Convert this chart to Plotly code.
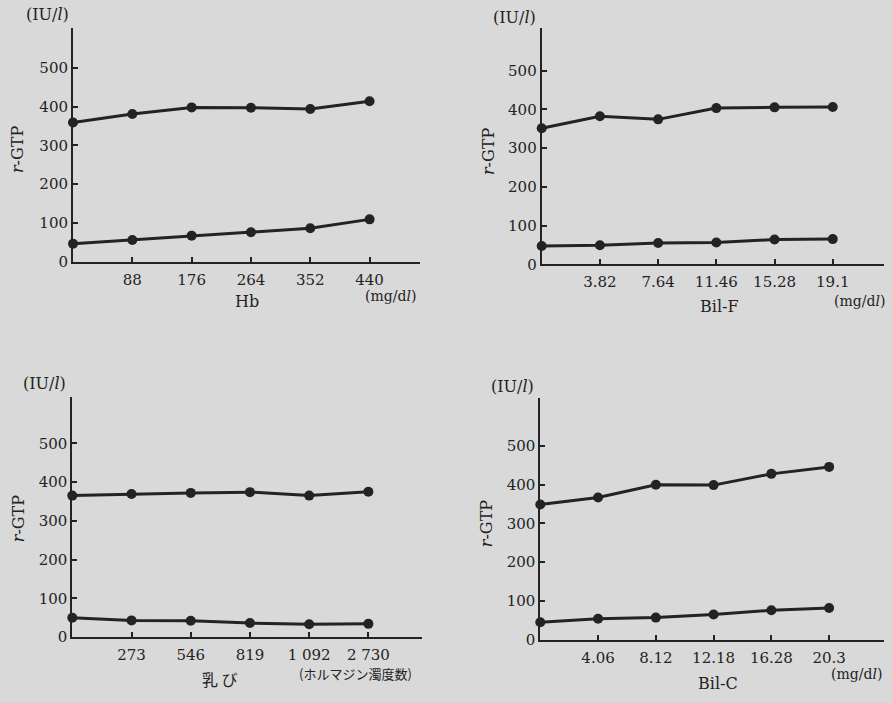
import plotly.graph_objects as go

# ---- data ----
hb_labels = ["", "88", "176", "264", "352", "440"]
hb_upper = [359, 381, 398, 397, 394, 414]
hb_lower = [46, 56, 67, 76, 86, 109]

bilf_labels = ["", "3.82", "7.64", "11.46", "15.28", "19.1"]
bilf_upper = [351, 382, 374, 403, 405, 406]
bilf_lower = [47, 49, 55, 56, 64, 65]

chyle_labels = ["", "273", "546", "819", "1 092", "2 730"]
chyle_upper = [365, 369, 372, 374, 365, 375]
chyle_lower = [50, 43, 42, 36, 33, 34]

bilc_labels = ["", "4.06", "8.12", "12.18", "16.28", "20.3"]
bilc_upper = [349, 367, 400, 399, 428, 446]
bilc_lower = [45, 54, 57, 65, 76, 82]

y_ticks = [0, 100, 200, 300, 400, 500]

W, H = 892, 703
BG = "#d9d9d9"
INK = "#232323"
SERIF = "DejaVu Serif, Liberation Serif, serif"
CJK = "Noto Sans CJK JP, sans-serif"

# panel geometry in pixels: (left, right, bottom, top) and text placements
panels = [
    dict(px=(73, 420, 265, 28), labels=hb_labels, up=hb_upper, lo=hb_lower,
         xtitle="Hb", xt=(247, 305), unit="(mg/d<i>l</i>)", ut=(390, 300),
         iu=(47, 15), rg=(17, 151), xend=5.85),
    dict(px=(541.7, 884, 267.7, 28), labels=bilf_labels, up=bilf_upper, lo=bilf_lower,
         xtitle="Bil-F", xt=(719, 310), unit="(mg/d<i>l</i>)", ut=(859, 305),
         iu=(514, 18), rg=(488, 153), xend=5.88),
    dict(px=(72.3, 421.7, 645.3, 401.7), labels=chyle_labels, up=chyle_upper, lo=chyle_lower,
         xtitle="乳 び", xt=(220, 688), unit="(ホルマジン濁度数)", ut=(355, 682),
         iu=(44, 388), rg=(18, 525), xend=5.9),
    dict(px=(540.3, 884, 648, 403), labels=bilc_labels, up=bilc_upper, lo=bilc_lower,
         xtitle="Bil-C", xt=(718, 692), unit="(mg/d<i>l</i>)", ut=(856, 683),
         iu=(512, 392), rg=(486, 530), xend=5.95),
]

fig = go.Figure()
annotations = []
layout = {}


def ann(text, xy, font, angle=0):
    return dict(text=text, x=xy[0] / W, y=1 - xy[1] / H, xref="paper", yref="paper",
                showarrow=False, font=font, textangle=angle,
                xanchor="center", yanchor="middle")


for i, p in enumerate(panels, start=1):
    l, r, b, t = p["px"]
    xa = "xaxis" if i == 1 else f"xaxis{i}"
    ya = "yaxis" if i == 1 else f"yaxis{i}"
    xref = "x" if i == 1 else f"x{i}"
    yref = "y" if i == 1 else f"y{i}"
    xs = list(range(len(p["labels"])))
    for series in (p["up"], p["lo"]):
        fig.add_trace(go.Scatter(
            x=xs, y=series, xaxis=xref, yaxis=yref, mode="lines+markers",
            line=dict(color=INK, width=3),
            marker=dict(color=INK, size=10),
            showlegend=False, hoverinfo="skip", cliponaxis=False,
        ))
    layout[xa] = dict(
        domain=[l / W, r / W], anchor=yref, range=[0, p["xend"]],
        showgrid=False, zeroline=False, showline=True, linecolor=INK, linewidth=2,
        ticks="inside", ticklen=5, tickwidth=1.5, tickcolor=INK,
        tickvals=xs[1:], ticktext=p["labels"][1:], ticklabelstandoff=3,
        tickfont=dict(family=SERIF, size=15, color=INK), fixedrange=True,
    )
    yr = (b - t) / 0.3925
    layout[ya] = dict(
        domain=[1 - b / H, 1 - t / H], anchor=xref, range=[0, yr],
        showgrid=False, zeroline=False, showline=True, linecolor=INK, linewidth=2,
        ticks="inside", ticklen=5, tickwidth=1.5, tickcolor=INK,
        tickvals=y_ticks, ticktext=[str(v) for v in y_ticks],
        tickfont=dict(family=SERIF, size=15, color=INK), fixedrange=True,
    )
    annotations.append(ann("(IU/<i>l</i>)", p["iu"], dict(family=SERIF, size=16, color=INK)))
    annotations.append(ann("<i>r</i>-GTP", p["rg"], dict(family=SERIF, size=16, color=INK), -90))
    xt_font = dict(family=CJK if i == 3 else SERIF, size=16, color=INK)
    annotations.append(ann(p["xtitle"], p["xt"], xt_font))
    u_font = dict(family=CJK, size=13, color=INK) if i == 3 else dict(family=SERIF, size=14, color=INK)
    annotations.append(ann(p["unit"], p["ut"], u_font))

fig.update_layout(
    width=W, height=H, margin=dict(l=0, r=0, t=0, b=0),
    paper_bgcolor=BG, plot_bgcolor=BG, annotations=annotations, **layout,
)
fig.write_html("out.html", config={"displayModeBar": False})
